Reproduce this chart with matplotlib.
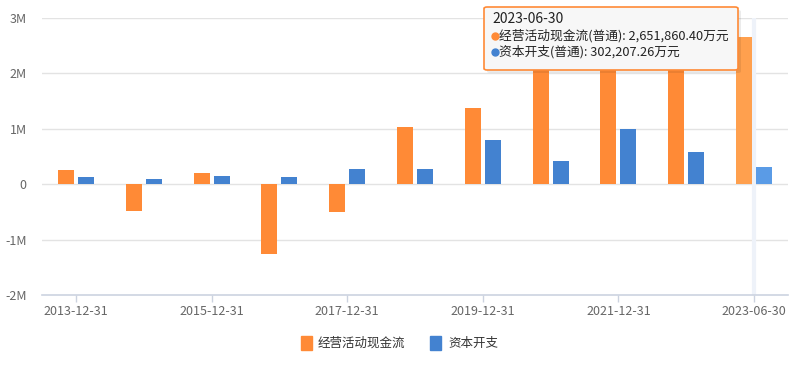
import matplotlib
matplotlib.use("Agg")
import matplotlib.pyplot as plt
import numpy as np
from matplotlib.patches import FancyBboxPatch, Rectangle
from matplotlib.lines import Line2D

plt.rcParams['font.family'] = ['Noto Sans CJK SC', 'DejaVu Sans']

categories = ["2013-12-31", "2014-12-31", "2015-12-31", "2016-12-31", "2017-12-31",
              "2018-12-31", "2019-12-31", "2020-12-31", "2021-12-31", "2022-12-31",
              "2023-06-30"]
# values in 万元
operating_cf = [252000, -487000, 200000, -1260000, -500000, 1030000, 1375000,
                2750000, 2600000, 2200000, 2651860.40]
capex = [126000, 90000, 145000, 125000, 270000, 270000, 790000, 410000, 990000,
         590000, 302207.26]
series_names = ["经营活动现金流", "资本开支"]
tick_labels_shown = ["2013-12-31", "2015-12-31", "2017-12-31", "2019-12-31",
                     "2021-12-31", "2023-06-30"]
y_ticks = [-2000000, -1000000, 0, 1000000, 2000000, 3000000]
y_tick_labels = ["-2M", "-1M", "0", "1M", "2M", "3M"]

orange = "#FF8A36"
blue = "#4382D0"
orange_hl = "#FFA04E"
blue_hl = "#5A9BE6"

W, H = 806, 368
fig = plt.figure(figsize=(W / 100, H / 100), dpi=100)
ax = fig.add_axes([42 / W, 1 - 295 / H, (788 - 42) / W, (295 - 18) / H])

x = np.arange(len(categories))
bw = 0.236
off = 0.147
oc = [orange] * (len(x) - 1) + [orange_hl]
bc = [blue] * (len(x) - 1) + [blue_hl]
ax.bar(x - off, operating_cf, width=bw, color=oc, zorder=3)
ax.bar(x + off, capex, width=bw, color=bc, zorder=3)

# hover indicator line
ax.axvline(len(x) - 1, color="#EEF2F9", lw=3, zorder=1)

ax.set_xlim(-0.5, len(x) - 0.5)
ax.set_ylim(-2000000, 3000000)
ax.set_yticks(y_ticks)
ax.set_yticklabels(y_tick_labels)
for yv in y_ticks[1:]:
    ax.axhline(yv, color="#E3E3E3", lw=1, zorder=0)

shown_idx = [categories.index(t) for t in tick_labels_shown]
ax.set_xticks(shown_idx)
ax.set_xticklabels(tick_labels_shown)

for s in ["top", "right", "left"]:
    ax.spines[s].set_visible(False)
ax.spines["bottom"].set_color("#CCD3E0")
ax.spines["bottom"].set_linewidth(1.2)
ax.tick_params(axis="x", colors="#CCD3E0", length=5, width=1, labelcolor="#666666",
               labelsize=9, pad=2)
ax.tick_params(axis="y", length=0, labelcolor="#666666", labelsize=9, pad=11)

# legend
def fx(px):
    return px / W

def fy(py):
    return 1 - py / H

fig.add_artist(Rectangle((fx(301), fy(350)), 11 / W, 14 / H, color=orange,
                         transform=fig.transFigure))
fig.text(fx(318), fy(343), series_names[0], fontsize=9, color="#333333",
         va="center", ha="left")
fig.add_artist(Rectangle((fx(430), fy(350)), 11 / W, 14 / H, color=blue,
                         transform=fig.transFigure))
fig.text(fx(448), fy(343), series_names[1], fontsize=9, color="#333333",
         va="center", ha="left")

# tooltip
shadow = FancyBboxPatch((fx(487), fy(73)), 254 / W, 63 / H,
                        boxstyle="round,pad=0,rounding_size=0.004",
                        transform=fig.transFigure, facecolor="#000000",
                        alpha=0.08, edgecolor="none", zorder=9)
fig.add_artist(shadow)
tip = FancyBboxPatch((fx(484), fy(70)), 254 / W, 63 / H,
                     boxstyle="round,pad=0,rounding_size=0.004",
                     transform=fig.transFigure, facecolor="#F7F7F7",
                     edgecolor="#FF8A36", lw=1.2, zorder=10)
fig.add_artist(tip)
fig.text(fx(492), fy(19), categories[-1], fontsize=10, color="#222222",
         va="center", ha="left", zorder=11)
fig.add_artist(Line2D([fx(495)], [fy(36)], marker="o", markersize=5,
                      color=orange, transform=fig.transFigure, zorder=11))
fig.text(fx(499), fy(36),
         f"{series_names[0]}(普通): {operating_cf[-1]:,.2f}万元",
         fontsize=9.2, color="#222222", va="center", ha="left", zorder=11)
fig.add_artist(Line2D([fx(495)], [fy(52)], marker="o", markersize=5,
                      color=blue, transform=fig.transFigure, zorder=11))
fig.text(fx(499), fy(52),
         f"{series_names[1]}(普通): {capex[-1]:,.2f}万元",
         fontsize=9.2, color="#222222", va="center", ha="left", zorder=11)

fig.savefig("out.png", dpi=100)
